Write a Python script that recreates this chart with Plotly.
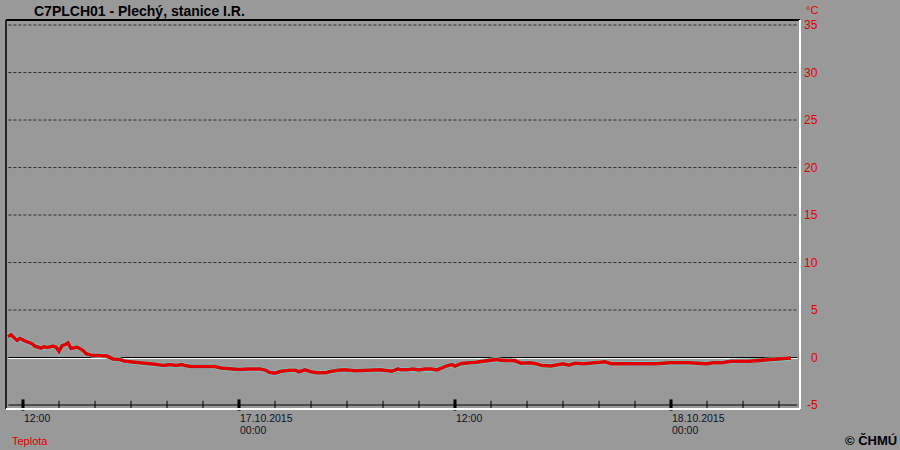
import plotly.graph_objects as go
import pandas as pd

# ---- data ----
times = [
    "2015-10-16 11:10", "2015-10-16 11:20", "2015-10-16 11:40", "2015-10-16 11:50",
    "2015-10-16 12:10", "2015-10-16 12:30", "2015-10-16 12:40", "2015-10-16 13:00",
    "2015-10-16 13:10", "2015-10-16 13:20", "2015-10-16 13:40", "2015-10-16 13:50",
    "2015-10-16 14:00", "2015-10-16 14:10", "2015-10-16 14:20", "2015-10-16 14:30",
    "2015-10-16 14:40", "2015-10-16 15:00", "2015-10-16 15:20", "2015-10-16 15:30",
    "2015-10-16 15:50", "2015-10-16 16:10", "2015-10-16 16:30", "2015-10-16 16:40",
    "2015-10-16 17:00", "2015-10-16 17:20", "2015-10-16 17:40", "2015-10-16 18:00",
    "2015-10-16 18:20", "2015-10-16 18:30", "2015-10-16 19:00", "2015-10-16 19:20",
    "2015-10-16 19:40", "2015-10-16 19:50", "2015-10-16 20:10", "2015-10-16 20:30",
    "2015-10-16 20:50", "2015-10-16 21:00", "2015-10-16 21:20", "2015-10-16 21:50",
    "2015-10-16 22:40", "2015-10-16 23:00", "2015-10-16 23:30", "2015-10-17 00:00",
    "2015-10-17 00:30", "2015-10-17 00:50", "2015-10-17 01:10", "2015-10-17 01:30",
    "2015-10-17 01:40", "2015-10-17 02:00", "2015-10-17 02:20", "2015-10-17 02:50",
    "2015-10-17 03:10", "2015-10-17 03:20", "2015-10-17 03:40", "2015-10-17 04:00",
    "2015-10-17 04:20", "2015-10-17 04:50", "2015-10-17 05:00", "2015-10-17 05:30",
    "2015-10-17 05:50", "2015-10-17 06:30", "2015-10-17 07:00", "2015-10-17 07:50",
    "2015-10-17 08:30", "2015-10-17 08:50", "2015-10-17 09:00", "2015-10-17 09:20",
    "2015-10-17 09:40", "2015-10-17 10:00", "2015-10-17 10:20", "2015-10-17 10:40",
    "2015-10-17 11:00", "2015-10-17 11:20", "2015-10-17 11:30", "2015-10-17 11:50",
    "2015-10-17 12:00", "2015-10-17 12:20", "2015-10-17 12:30", "2015-10-17 13:10",
    "2015-10-17 13:40", "2015-10-17 14:00", "2015-10-17 14:20", "2015-10-17 14:30",
    "2015-10-17 15:00", "2015-10-17 15:20", "2015-10-17 15:40", "2015-10-17 16:10",
    "2015-10-17 16:30", "2015-10-17 16:50", "2015-10-17 17:20", "2015-10-17 17:40",
    "2015-10-17 18:00", "2015-10-17 18:20", "2015-10-17 18:40", "2015-10-17 19:10",
    "2015-10-17 19:50", "2015-10-17 20:20", "2015-10-17 20:40", "2015-10-17 21:30",
    "2015-10-17 22:20", "2015-10-17 23:10", "2015-10-18 00:00", "2015-10-18 01:00",
    "2015-10-18 02:00", "2015-10-18 02:20", "2015-10-18 02:50", "2015-10-18 03:20",
    "2015-10-18 04:20", "2015-10-18 05:10", "2015-10-18 06:00", "2015-10-18 06:20",
    "2015-10-18 06:40",
]
temps = [
    2.2, 2.4, 1.8, 2.0,
    1.7, 1.45, 1.2, 1.0,
    1.15, 1.05, 1.2, 1.1,
    0.65, 1.25, 1.35, 1.55,
    0.95, 1.1, 0.75, 0.4,
    0.25, 0.2, 0.2, 0.15,
    -0.15, -0.2, -0.4, -0.45,
    -0.5, -0.55, -0.6, -0.7,
    -0.8, -0.85, -0.75, -0.85,
    -0.75, -0.85, -0.95, -0.95,
    -0.95, -1.1, -1.2, -1.25,
    -1.2, -1.2, -1.2, -1.35,
    -1.55, -1.65, -1.45, -1.35,
    -1.35, -1.5, -1.3, -1.5,
    -1.6, -1.6, -1.5, -1.35,
    -1.3, -1.4, -1.35, -1.3,
    -1.45, -1.2, -1.3, -1.3,
    -1.2, -1.3, -1.2, -1.2,
    -1.3, -1.0, -0.9, -0.75,
    -0.9, -0.65, -0.6, -0.5,
    -0.4, -0.3, -0.2, -0.3,
    -0.3, -0.35, -0.6, -0.55,
    -0.65, -0.85, -0.9, -0.75,
    -0.65, -0.8, -0.6, -0.65,
    -0.55, -0.45, -0.65, -0.65,
    -0.6, -0.65, -0.55, -0.55,
    -0.65, -0.55, -0.55, -0.4,
    -0.4, -0.3, -0.2, -0.15,
    -0.05,
]

y_ticks = [35, 30, 25, 20, 15, 10, 5, 0, -5]
minor_ticks = list(pd.date_range("2015-10-16 12:00", "2015-10-18 06:00", freq="2h"))
major_ticks = ["2015-10-16 12:00", "2015-10-17 00:00", "2015-10-17 12:00", "2015-10-18 00:00"]
major_line1 = ["12:00", "17.10.2015", "12:00", "18.10.2015"]
major_line2 = ["", "00:00", "", "00:00"]

title = "C7PLCH01 - Plechý, stanice I.R."
unit = "°C"
series_name = "Teplota"
credit = "© ČHMÚ"

BG = "#999999"
RED = "#e00000"
FONT = "Liberation Sans, Arial, sans-serif"

x_range = ["2015-10-16 11:03:20", "2015-10-18 07:10"]
y_range = [-5.42, 35.53]

fig = go.Figure()

# halo for the line (light teal edge)
fig.add_trace(go.Scatter(x=times, y=temps, mode="lines",
                         line=dict(color="#7cc4c4", width=5), hoverinfo="skip"))
fig.add_trace(go.Scatter(x=times, y=temps, mode="lines", name=series_name,
                         line=dict(color=RED, width=3.5)))

# axis tick marks
fig.add_trace(go.Scatter(x=minor_ticks, y=[-5] * len(minor_ticks), mode="markers",
                         marker=dict(symbol="line-ns", size=6,
                                     line=dict(color="black", width=1)),
                         cliponaxis=False, hoverinfo="skip"))
fig.add_trace(go.Scatter(x=major_ticks, y=[-5] * len(major_ticks), mode="markers",
                         marker=dict(symbol="line-ns", size=8,
                                     line=dict(color="black", width=3)),
                         cliponaxis=False, hoverinfo="skip"))

shapes = []
# gridlines
for v in y_ticks:
    if v > 0:
        shapes.append(dict(type="line", xref="paper", yref="y", x0=0.003, x1=0.9965,
                           y0=v, y1=v, line=dict(color="#303030", width=1, dash="3px,2px"),
                           layer="below"))
# zero line (black with white below)
shapes.append(dict(type="line", xref="paper", yref="y", x0=0.003, x1=0.9965,
                   y0=-0.11, y1=-0.11, line=dict(color="white", width=1), layer="below"))
shapes.append(dict(type="line", xref="paper", yref="y", x0=0.003, x1=0.9965,
                   y0=0, y1=0, line=dict(color="black", width=1), layer="below"))
# x axis line at -5
shapes.append(dict(type="line", xref="paper", yref="y", x0=0.003, x1=0.9965,
                   y0=-5, y1=-5, line=dict(color="black", width=1), layer="below"))
# plot frame
shapes.append(dict(type="line", xref="paper", yref="paper", x0=0, x1=1, y0=1, y1=1,
                   line=dict(color="black", width=2)))
shapes.append(dict(type="line", xref="paper", yref="paper", x0=0, x1=0, y0=0, y1=1,
                   line=dict(color="black", width=1.5)))
shapes.append(dict(type="line", xref="paper", yref="paper", x0=1, x1=1, y0=0, y1=1,
                   line=dict(color="white", width=2)))
shapes.append(dict(type="line", xref="paper", yref="paper", x0=0, x1=1, y0=0, y1=0,
                   line=dict(color="white", width=2)))

annotations = []
for v in y_ticks:
    annotations.append(dict(xref="paper", yref="y", x=1, y=v, xanchor="right",
                            yanchor="middle", xshift=20, text=str(v), showarrow=False,
                            font=dict(family=FONT, size=12, color=RED)))
annotations.append(dict(xref="paper", yref="paper", x=1, y=1, xanchor="right",
                        yanchor="middle", xshift=20, yshift=10, text=unit, showarrow=False,
                        font=dict(family=FONT, size=11, color=RED)))
for t, l1, l2 in zip(major_ticks, major_line1, major_line2):
    annotations.append(dict(xref="x", yref="paper", x=t, y=0, xanchor="left",
                            yanchor="middle", xshift=-1, yshift=-9, text=l1, showarrow=False,
                            font=dict(family=FONT, size=10.5, color="#101028")))
    if l2:
        annotations.append(dict(xref="x", yref="paper", x=t, y=0, xanchor="left",
                                yanchor="middle", xshift=-1, yshift=-21, text=l2,
                                showarrow=False,
                                font=dict(family=FONT, size=10.5, color="#101028")))
annotations.append(dict(xref="paper", yref="paper", x=0, y=0, xanchor="left",
                        yanchor="middle", xshift=4, yshift=-32, text=series_name,
                        showarrow=False, font=dict(family=FONT, size=11, color=RED)))
annotations.append(dict(xref="paper", yref="paper", x=1, y=0, xanchor="right",
                        yanchor="middle", xshift=99, yshift=-31, text="<b>" + credit + "</b>",
                        showarrow=False, font=dict(family=FONT, size=13, color="black")))
annotations.append(dict(xref="paper", yref="paper", x=0, y=1, xanchor="left",
                        yanchor="middle", xshift=26, yshift=9, text="<b>" + title + "</b>",
                        showarrow=False, font=dict(family=FONT, size=14, color="black")))

fig.update_layout(
    width=900, height=450,
    margin=dict(l=6, r=100, t=20, b=41),
    paper_bgcolor=BG, plot_bgcolor=BG,
    showlegend=False,
    xaxis=dict(range=x_range, showgrid=False, zeroline=False, showticklabels=False,
               ticks="", showline=False),
    yaxis=dict(range=y_range, showgrid=False, zeroline=False, showticklabels=False,
               ticks="", showline=False),
    shapes=shapes,
    annotations=annotations,
)

fig.write_html("out.html", config={"displayModeBar": False},
               post_script="document.body.style.margin='0';document.body.style.padding='0';"
                           "document.body.style.overflow='hidden';"
                           "document.body.style.background='" + BG + "';")
